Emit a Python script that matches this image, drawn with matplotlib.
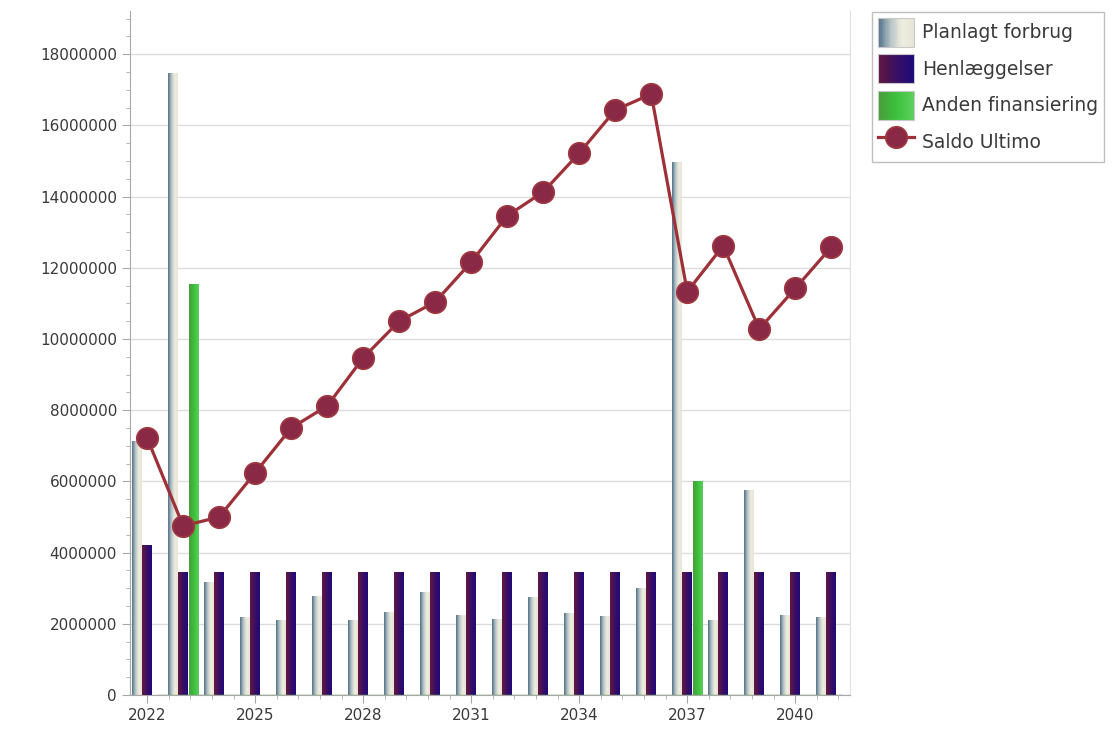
import numpy as np
import matplotlib
matplotlib.use("Agg")
import matplotlib.pyplot as plt
from matplotlib.colors import LinearSegmentedColormap
from matplotlib.patches import Rectangle
from matplotlib.legend_handler import HandlerBase
from matplotlib.ticker import MultipleLocator

# data
years = list(range(2022, 2042))
planlagt = [7120000, 17470000, 3170000, 2170000, 2100000, 2780000, 2100000, 2330000,
            2890000, 2220000, 2130000, 2730000, 2300000, 2200000, 3000000, 14970000,
            2080000, 5750000, 2230000, 2170000]
henlaeg = [4210000] + [3430000] * 19
anden = [0, 11520000] + [0] * 13 + [6000000] + [0] * 4
saldo = [7220000, 4750000, 5000000, 6240000, 7500000, 8120000, 9470000, 10500000,
         11040000, 12160000, 13460000, 14130000, 15220000, 16430000, 16880000,
         11330000, 12620000, 10280000, 11420000, 12580000]

c_plan = ["#52708a", "#b3c1c4", "#eeedde", "#e6e6d8"]
c_henl = ["#62183f", "#3a0f62", "#1d0a7a"]
c_anden = ["#4a9c3c", "#3cc03c", "#5ad05a"]

cm_plan = LinearSegmentedColormap.from_list("plan", c_plan)
cm_henl = LinearSegmentedColormap.from_list("henl", c_henl)
cm_anden = LinearSegmentedColormap.from_list("anden", c_anden)

plt.rcParams['font.family'] = ['DejaVu Sans']

fig = plt.figure(figsize=(11.13, 7.39), dpi=100)
ax = fig.add_axes([0.117, 0.0595, 0.647, 0.925])

x = np.arange(len(years))
w = 0.27
off = 0.29
grad = np.linspace(0, 1, 64).reshape(1, -1)


def gradient_bars(xs, vals, cmap, label):
    bars = ax.bar(xs, vals, w, color="none", edgecolor="none", label=label, zorder=2)
    for r in bars:
        x0, y0 = r.get_xy()
        if r.get_height() <= 0:
            continue
        ax.imshow(grad, extent=[x0, x0 + r.get_width(), y0, y0 + r.get_height()],
                  aspect="auto", cmap=cmap, zorder=2, interpolation="bilinear")
    return bars


b1 = gradient_bars(x - off, planlagt, cm_plan, "Planlagt forbrug")
b2 = gradient_bars(x, henlaeg, cm_henl, "Henlæggelser")
b3 = gradient_bars(x + off, anden, cm_anden, "Anden finansiering")
# green zero line along the base
ax.plot(x + off, [0] * len(x), color="#4caf3c", lw=1, zorder=2)

ln, = ax.plot(x, saldo, color="#9e3038", lw=2.3, marker="o", markersize=15.5,
              markerfacecolor="#8a2946", markeredgecolor="#a03840", markeredgewidth=1.2,
              zorder=4, label="Saldo Ultimo")

ax.set_xlim(-0.47, 19.53)
ax.set_ylim(0, 19200000)
ax.set_yticks(np.arange(0, 18000001, 2000000))
ax.set_yticklabels([str(int(v)) for v in np.arange(0, 18000001, 2000000)])
ax.yaxis.set_minor_locator(MultipleLocator(500000))
ax.set_xticks(x[::3])
ax.set_xticklabels([str(y) for y in years[::3]])
ax.xaxis.set_minor_locator(MultipleLocator(0.6))

ax.grid(axis="y", color="#dcdcdc", lw=1, zorder=0)
ax.set_axisbelow(True)
ax.spines["top"].set_visible(False)
ax.spines["right"].set_color("#e0e0e0")
ax.spines["left"].set_color("#a8a8a8")
ax.spines["bottom"].set_color("#a8a8a8")
ax.tick_params(axis="both", which="major", length=6, color="#a8a8a8",
               labelsize=11, labelcolor="#3a3a3a")
ax.tick_params(axis="both", which="minor", length=3, color="#a8a8a8")
ax.tick_params(axis="y", which="both", right=False)


class GradHandler(HandlerBase):
    def __init__(self, cmap):
        super().__init__()
        self.cmap = cmap

    def create_artists(self, legend, orig_handle, xdescent, ydescent, width, height,
                       fontsize, trans):
        arts = []
        n = 30
        for k in range(n):
            r = Rectangle((-xdescent + k * width / n, -ydescent), width / n + 0.3, height,
                          facecolor=self.cmap(k / (n - 1)), edgecolor="none", transform=trans)
            arts.append(r)
        arts.append(Rectangle((-xdescent, -ydescent), width, height, facecolor="none",
                              edgecolor="#c8c8c8", lw=0.8, transform=trans))
        return arts


leg = fig.legend([b1, b2, b3, ln],
                 ["Planlagt forbrug", "Henlæggelser", "Anden finansiering", "Saldo Ultimo"],
                 handler_map={b1: GradHandler(cm_plan), b2: GradHandler(cm_henl),
                              b3: GradHandler(cm_anden)},
                 loc="upper left", bbox_to_anchor=(0.7835, 0.984), fontsize=13.5,
                 handlelength=1.9, handleheight=2.0, labelspacing=0.4,
                 handletextpad=0.45, borderpad=0.32, borderaxespad=0,
                 fancybox=False, frameon=True)
leg.get_frame().set_edgecolor("#b0b0b0")
leg.get_frame().set_linewidth(1)
for t in leg.get_texts():
    t.set_color("#3a3a3a")

fig.savefig("out.png", dpi=100)
